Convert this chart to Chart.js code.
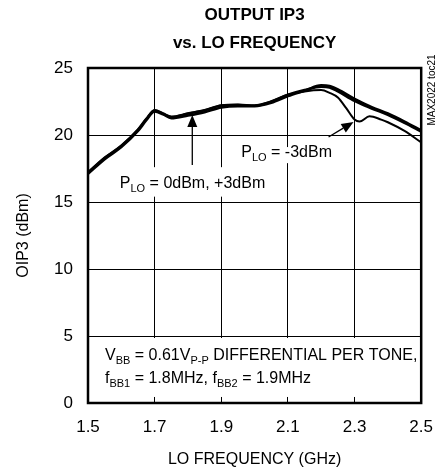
<!DOCTYPE html>
<html>
<head>
<meta charset="utf-8">
<script src="https://cdn.jsdelivr.net/npm/chart.js@4.4.1/dist/chart.umd.min.js"></script>
<style>
  html, body { margin: 0; padding: 0; background: #fff; }
  canvas { display: block; }
</style>
</head>
<body>
<canvas id="chart" width="447" height="469" style="width:447px;height:469px"></canvas>
<script>
// values
const freqGHz = [1.50, 1.55, 1.60, 1.65, 1.675, 1.70, 1.725, 1.75, 1.80, 1.85, 1.90, 1.95, 2.00, 2.05, 2.10, 2.15, 2.20, 2.225, 2.25, 2.30, 2.35, 2.40, 2.45, 2.50];
const oip3Lo0dBm = [17.2, 18.3, 19.2, 20.4, 21.2, 21.85, 21.6, 21.35, 21.6, 21.85, 22.2, 22.25, 22.2, 22.5, 23.0, 23.35, 23.6, 23.55, 23.25, 22.55, 22.0, 21.5, 20.9, 20.25];
const oip3Lo3dBm = [17.1, 18.2, 19.1, 20.3, 21.1, 21.75, 21.55, 21.25, 21.45, 21.7, 22.05, 22.15, 22.15, 22.4, 22.9, 23.3, 23.7, 23.65, 23.4, 22.7, 22.1, 21.6, 21.0, 20.35];
const freqGHzM3 = [1.50, 1.55, 1.60, 1.65, 1.675, 1.70, 1.725, 1.75, 1.80, 1.85, 1.90, 1.95, 2.00, 2.05, 2.10, 2.15, 2.20, 2.225, 2.25, 2.275, 2.30, 2.315, 2.345, 2.38, 2.40, 2.45, 2.50];
const oip3LoM3dBm = [17.2, 18.3, 19.2, 20.4, 21.2, 21.85, 21.6, 21.35, 21.6, 21.85, 22.2, 22.25, 22.2, 22.5, 23.0, 23.25, 23.35, 23.15, 22.8, 22.0, 21.15, 21.0, 21.4, 21.15, 20.95, 20.3, 19.45];
const xTickValues = [1.5, 1.7, 1.9, 2.1, 2.3, 2.5];
const xGridValues = [1.7, 1.9, 2.1, 2.3];

const FONT = "'Liberation Sans', Arial, sans-serif";

// text labels on the plot (data units)
const notes = [
  { box: [1.585, 17.6, 2.04, 15.4], lines: [{ x: 1.5955, y: 16.05, parts: [["P"], ["LO", 1], [" = 0dBm, +3dBm"]] }] },
  { box: [1.948, 19.1, 2.24, 17.9], lines: [{ x: 1.96, y: 18.38, parts: [["P"], ["LO", 1], [" = -3dBm"]] }] },
  { box: [1.521, 4.85, 2.479, 0.45], lines: [
    { x: 1.551, y: 3.21, parts: [["V"], ["BB", 1], [" = 0.61V"], ["P-P", 1], [" DIFFERENTIAL PER TONE,"]] },
    { x: 1.551, y: 1.52, parts: [["f"], ["BB1", 1], [" = 1.8MHz, f"], ["BB2", 1], [" = 1.9MHz"]] }
  ] }
];
const arrows = [
  { from: [1.813, 17.76], to: [1.813, 21.5] },
  { from: [2.222, 19.85], to: [2.297, 20.97] }
];

function toPoints(xs, ys) {
  return xs.map((x, i) => ({ x: x, y: ys[i] }));
}

function drawRich(ctx, x, y, parts) {
  ctx.textBaseline = "alphabetic";
  ctx.textAlign = "left";
  parts.forEach(([txt, sub]) => {
    ctx.font = sub ? "11px " + FONT : "16px " + FONT;
    ctx.fillText(txt, x, sub ? y + 4 : y);
    x += ctx.measureText(txt).width;
  });
}

const overlay = {
  id: "overlay",
  beforeDatasetsDraw(chart) {
    const { ctx, scales: { x, y } } = chart;
    ctx.save();
    notes.forEach(n => {
      // white box hides the grid under the label
      const x0 = x.getPixelForValue(n.box[0]), y0 = y.getPixelForValue(n.box[1]);
      const x1 = x.getPixelForValue(n.box[2]), y1 = y.getPixelForValue(n.box[3]);
      ctx.fillStyle = "#fff";
      ctx.fillRect(x0, y0, x1 - x0, y1 - y0);
      ctx.fillStyle = "#000";
      n.lines.forEach(l => drawRich(ctx, x.getPixelForValue(l.x), y.getPixelForValue(l.y), l.parts));
    });
    ctx.restore();
  },
  afterDatasetsDraw(chart) {
    const { ctx, chartArea: a, scales: { x, y } } = chart;
    ctx.save();
    ctx.strokeStyle = "#000";
    ctx.fillStyle = "#000";
    arrows.forEach(ar => {
      const fx = x.getPixelForValue(ar.from[0]), fy = y.getPixelForValue(ar.from[1]);
      const tx = x.getPixelForValue(ar.to[0]), ty = y.getPixelForValue(ar.to[1]);
      const ang = Math.atan2(ty - fy, tx - fx);
      const len = 12, hw = 5;
      const bx = tx - len * Math.cos(ang), by = ty - len * Math.sin(ang);
      ctx.lineWidth = 1.3;
      ctx.beginPath();
      ctx.moveTo(fx, fy);
      ctx.lineTo(bx, by);
      ctx.stroke();
      ctx.beginPath();
      ctx.moveTo(tx, ty);
      ctx.lineTo(bx + hw * Math.sin(ang), by - hw * Math.cos(ang));
      ctx.lineTo(bx - hw * Math.sin(ang), by + hw * Math.cos(ang));
      ctx.closePath();
      ctx.fill();
    });
    // heavy frame
    ctx.lineWidth = 2.5;
    ctx.strokeRect(a.left, a.top, a.right - a.left, a.bottom - a.top);
    // part number, rotated at the right edge
    ctx.translate(432, 90);
    ctx.rotate(-Math.PI / 2);
    ctx.font = "10px " + FONT;
    ctx.textAlign = "center";
    ctx.textBaseline = "middle";
    ctx.fillText("MAX2022 toc21", 0, 0);
    ctx.restore();
  }
};

const lineStyle = {
  borderColor: "#000",
  borderWidth: 2.6,
  pointRadius: 0,
  fill: false,
  cubicInterpolationMode: "monotone"
};

new Chart(document.getElementById("chart"), {
  type: "line",
  data: {
    datasets: [
      Object.assign({ label: "PLO = 0dBm", data: toPoints(freqGHz, oip3Lo0dBm) }, lineStyle),
      Object.assign({ label: "PLO = +3dBm", data: toPoints(freqGHz, oip3Lo3dBm) }, lineStyle),
      Object.assign({ label: "PLO = -3dBm", data: toPoints(freqGHzM3, oip3LoM3dBm) }, lineStyle, { borderWidth: 2 })
    ]
  },
  options: {
    responsive: false,
    animation: false,
    layout: { padding: { left: 0, right: 24, top: 0, bottom: 0 } },
    plugins: {
      legend: { display: false },
      tooltip: { enabled: false },
      title: {
        display: true,
        text: ["OUTPUT IP3", "vs. LO FREQUENCY"],
        color: "#000",
        fullSize: false,
        font: { family: FONT, size: 17, weight: "bold", lineHeight: 28 / 17 },
        padding: { top: 1, bottom: 11 }
      }
    },
    scales: {
      x: {
        type: "linear",
        min: 1.5,
        max: 2.5,
        afterFit(scale) { scale.height = 66; },
        afterBuildTicks(scale) { scale.ticks = xTickValues.map(v => ({ value: v })); },
        grid: {
          color: ctx => (ctx.tick && xGridValues.includes(ctx.tick.value) ? "#000" : "rgba(0,0,0,0)"),
          lineWidth: 1,
          drawTicks: false
        },
        border: { display: false },
        ticks: {
          color: "#000",
          padding: 14,
          maxRotation: 0,
          font: { family: FONT, size: 17 },
          callback: v => v.toFixed(1)
        },
        title: {
          display: true,
          text: "LO FREQUENCY (GHz)",
          color: "#000",
          font: { family: FONT, size: 16 },
          padding: { top: 0, bottom: 0 }
        }
      },
      y: {
        min: 0,
        max: 25,
        afterFit(scale) { scale.width = 88; },
        grid: { color: "#000", lineWidth: 1, drawTicks: false },
        border: { display: false },
        ticks: {
          stepSize: 5,
          color: "#000",
          padding: 15,
          font: { family: FONT, size: 17 }
        },
        title: {
          display: true,
          text: "OIP3 (dBm)",
          color: "#000",
          font: { family: FONT, size: 16 },
          padding: { top: 14, bottom: 0 }
        }
      }
    }
  },
  plugins: [overlay]
});
</script>
</body>
</html>
